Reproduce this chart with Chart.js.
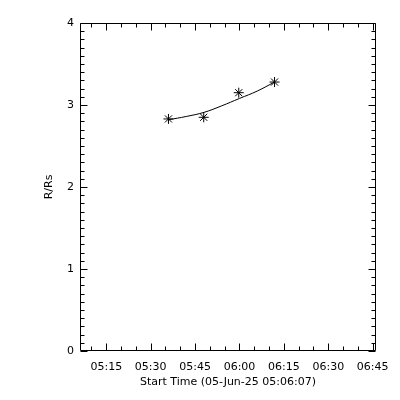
<!DOCTYPE html>
<html>
<head>
<meta charset="utf-8">
<script src="https://cdn.jsdelivr.net/npm/chart.js@4/dist/chart.umd.min.js"></script>
<style>
html,body{margin:0;padding:0;background:#fff;}
#wrap{width:400px;height:400px;}
</style>
</head>
<body>
<div id="wrap"><canvas id="c" width="400" height="400"></canvas></div>
<script>
// ---- data ----
const startTime = '05:06:07';
const axisSpanMinutes = 100;             // x axis runs 05:06:07 .. 06:46:07
const xTickLabels = ['05:15','05:30','05:45','06:00','06:15','06:30','06:45'];
const yTickLabels = ['0','1','2','3','4'];
const pointTimes = ['05:36:00','05:47:55','05:59:45','06:11:50'];
const heights = [2.83, 2.85, 3.15, 3.28];
const fitTimes = ['05:36:00','05:42:00','05:48:00','05:54:00','06:00:00','06:06:00','06:11:50'];
const fitHeights = [2.82, 2.86, 2.91, 2.99, 3.08, 3.17, 3.28];
const xTitle = 'Start Time (05-Jun-25 05:06:07)';
const yTitle = 'R/Rs';

function toMin(t){
  const p = t.split(':').map(Number);
  return p[0]*60 + p[1] + (p[2]||0)/60;
}
const t0 = toMin(startTime);
const rel = t => toMin(t) - t0;
const xTickVals = xTickLabels.map(rel);

const FONT = {family:'DejaVu Sans', size:11, lineHeight:1};

const idlFrame = {
  id:'idlFrame',
  afterDraw(chart){
    const ctx = chart.ctx, a = chart.chartArea;
    const xs = chart.scales.x, ys = chart.scales.y;
    const L = Math.round(a.left)+0.5, R = Math.round(a.right)-0.5;
    const T = Math.round(a.top)+0.5, B = Math.round(a.bottom)-0.5;
    ctx.save();
    ctx.strokeStyle = '#000';
    ctx.lineWidth = 1;
    ctx.beginPath();
    ctx.rect(L, T, R-L, B-T);
    const major = 7, minor = 4;
    for (let m = xTickVals[0] % 5; m <= axisSpanMinutes; m += 5){
      const isMajor = xTickVals.some(v => Math.abs(v-m) < 1e-6);
      const len = isMajor ? major : minor;
      const px = Math.round(xs.getPixelForValue(m))+0.5;
      if (px < L || px > R) continue;
      ctx.moveTo(px, B); ctx.lineTo(px, B-len);
      ctx.moveTo(px, T); ctx.lineTo(px, T+len);
    }
    for (let i = 0; i <= 40; i++){
      const v = i/10;
      const len = (i % 10 === 0) ? major : minor;
      const py = Math.round(ys.getPixelForValue(v))+0.5;
      ctx.moveTo(L, py); ctx.lineTo(L+len, py);
      ctx.moveTo(R, py); ctx.lineTo(R-len, py);
    }
    ctx.stroke();
    ctx.restore();
  }
};

new Chart(document.getElementById('c'), {
  type:'scatter',
  data:{
    datasets:[
      {
        label:'fit',
        data: fitTimes.map((t,i)=>({x:rel(t), y:fitHeights[i]})),
        showLine:true,
        borderColor:'#000',
        borderWidth:1,
        pointRadius:0,
        tension:0.4,
        fill:false
      },
      {
        label:'R/Rs',
        data: pointTimes.map((t,i)=>({x:rel(t), y:heights[i]})),
        showLine:false,
        pointStyle:'star',
        pointRadius:5,
        borderColor:'#000',
        backgroundColor:'#000',
        borderWidth:1
      }
    ]
  },
  options:{
    responsive:false,
    animation:false,
    events:[],
    layout:{padding:{left:0, top:23, right:24, bottom:0}},
    plugins:{legend:{display:false}, tooltip:{enabled:false}},
    scales:{
      x:{
        type:'linear', min:0, max:axisSpanMinutes,
        grid:{display:false, drawTicks:false},
        border:{display:false},
        afterBuildTicks(s){ s.ticks = xTickVals.map(v=>({value:v})); },
        afterFit(s){ s.height = 49; },
        ticks:{
          autoSkip:false, maxRotation:0, minRotation:0,
          color:'#000', font:FONT, padding:11,
          callback:(v,i)=>xTickLabels[i]
        },
        title:{display:true, text:xTitle, color:'#000', font:FONT, padding:{top:0,bottom:12}}
      },
      y:{
        type:'linear', min:0, max:4,
        grid:{display:false, drawTicks:false},
        border:{display:false},
        afterBuildTicks(s){ s.ticks = yTickLabels.map(l=>({value:Number(l)})); },
        afterFit(s){ s.width = 80; },
        ticks:{
          color:'#000', font:FONT, padding:6,
          callback:(v,i)=>yTickLabels[i]
        },
        title:{display:true, text:yTitle, color:'#000', font:FONT, padding:{top:44,bottom:0}}
      }
    }
  },
  plugins:[idlFrame]
});
</script>
</body>
</html>
